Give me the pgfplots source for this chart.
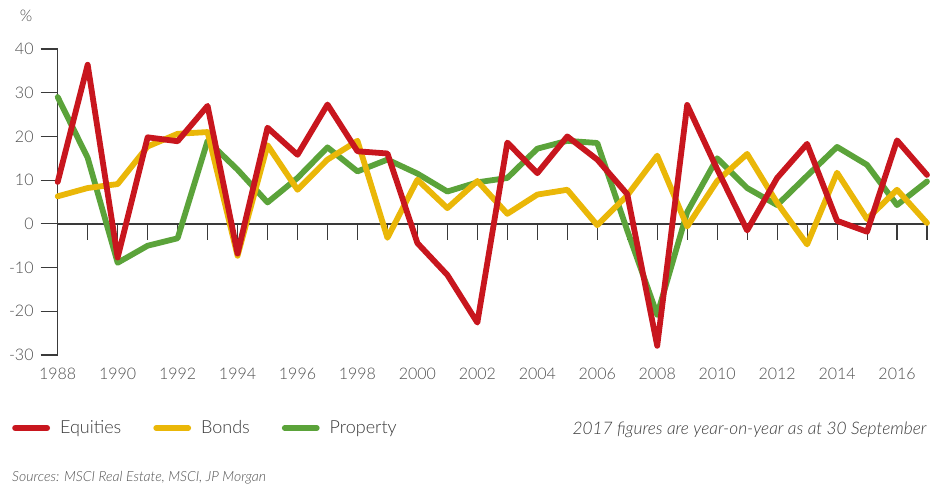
\documentclass[border=0pt]{standalone}
\usepackage{fontspec}
\setmainfont{Lato}[UprightFont=* Light, ItalicFont=* Light Italic]
\usepackage{pgfplots}
\usepackage{pgfplotstable}
\pgfplotsset{compat=1.18}

\definecolor{eqred}{HTML}{C8161E}
\definecolor{bdyel}{HTML}{EAB708}
\definecolor{prgrn}{HTML}{5BA33A}
\definecolor{axcol}{HTML}{3A3A3A}
\definecolor{labcol}{HTML}{505050}

% annual returns, % (2017 = year to 30 September)
\pgfplotstableread{
year  eq     bo     pr
1988  9.6    6.3    29.0
1989  36.4   8.2    15.1
1990  -7.7   9.1    -8.9
1991  19.8   17.7   -5.0
1992  18.9   20.6   -3.3
1993  27.0   21.0   19.0
1994  -6.8   -7.3   12.4
1995  22.0   18.0   4.9
1996  15.8   7.8    10.5
1997  27.3   14.7   17.5
1998  16.6   19.0   12.0
1999  16.1   -3.2   14.7
2000  -4.4   10.1   11.5
2001  -11.7  3.6    7.4
2002  -22.6  9.8    9.5
2003  18.6   2.3    10.5
2004  11.6   6.7    17.2
2005  20.0   7.8    19.0
2006  14.7   -0.3   18.5
2007  6.8    6.5    -1.5
2008  -27.9  15.6   -20.8
2009  27.2   -0.6   2.7
2010  12.5   9.8    15.0
2011  -1.5   16.0   8.2
2012  10.5   4.8    4.3
2013  18.3   -4.7   11.0
2014  0.7    11.7   17.6
2015  -1.8   1.1    13.5
2016  19.1   7.8    4.3
2017  11.2   0.2    9.7
}\returns

\begin{document}
\begin{tikzpicture}
\begin{axis}[
  at={(57.7pt,-355pt)}, anchor=south west,
  scale only axis, width=869.3pt, height=306pt,
  clip=false,
  xmin=1988, xmax=2017, ymin=-30, ymax=40,
  axis lines*=left,
  x axis line style={draw=none},
  y axis line style={axcol, line width=1.3pt},
  xtick={1988,1990,...,2016},
  xticklabels={1988,1990,1992,1994,1996,1998,2000,2002,2004,2006,2008,2010,2012,2014,2016},
  ytick={-30,-20,...,40},
  yticklabels={-30,-20,-10,0,10,20,30,40},
  tick align=outside,
  major tick length=17pt,
  xtick style={draw=none},
  ytick style={axcol, line width=1.1pt},
  ticklabel style={font=\fontsize{16}{19}\selectfont, text=labcol},
  xticklabel style={yshift=7pt},
  yticklabel style={inner xsep=7pt},
  legend columns=3,
  legend style={at={(axis description cs:-0.056,-0.2386)}, anchor=west,
    draw=none, fill=none, font=\fontsize{18}{21}\selectfont, text=axcol,
    /tikz/every odd column/.append style={column sep=8pt},
    /tikz/every even column/.append style={column sep=30pt}},
  legend image code/.code={\draw[#1, line cap=round] (0pt,0pt) -- (32pt,0pt);},
  every axis plot/.append style={line width=5.8pt, line join=round, line cap=round, no marks},
]
\draw[axcol, line width=1.3pt] (axis cs:1988,0) -- (axis cs:2017,0);
\pgfplotsinvokeforeach{1988,...,2017}{
  \draw[axcol, line width=1.1pt] (axis cs:#1,0) -- ++(0pt,-16pt);
}
\addlegendimage{eqred, line width=5.8pt}
\addlegendentry{Equities}
\addlegendimage{bdyel, line width=5.8pt}
\addlegendentry{Bonds}
\addlegendimage{prgrn, line width=5.8pt}
\addlegendentry{Property}
\addplot[prgrn, forget plot] table[x=year, y=pr] {\returns};
\addplot[bdyel, forget plot] table[x=year, y=bo] {\returns};
\addplot[eqred, forget plot] table[x=year, y=eq] {\returns};
\end{axis}
\node[text=labcol, font=\fontsize{16}{19}\selectfont] at (26pt,-16pt) {\%};
\node[anchor=east, text=axcol, font=\fontsize{17.3}{20}\selectfont\itshape] at (930pt,-430pt)
  {2017 figures are year-on-year as at 30 September};
\node[anchor=west, inner sep=0pt, text=labcol, font=\fontsize{14}{16}\selectfont\itshape] at (12pt,-478pt)
  {Sources: MSCI Real Estate, MSCI, JP Morgan};
\pgfresetboundingbox
\path[use as bounding box] (0pt,0pt) rectangle (941pt,-489pt);
\end{tikzpicture}
\end{document}
